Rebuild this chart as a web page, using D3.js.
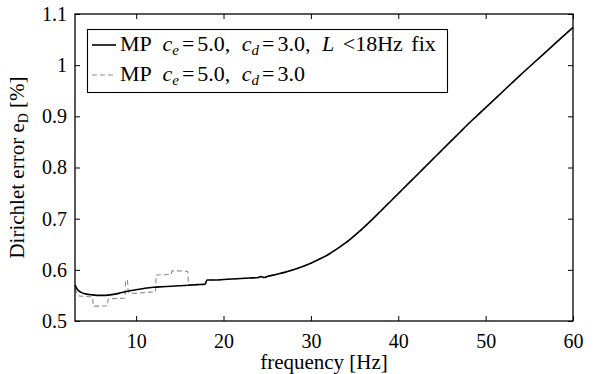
<!DOCTYPE html>
<html>
<head>
<meta charset="utf-8">
<script src="https://cdn.jsdelivr.net/npm/d3@7"></script>
<style>
  body { margin: 0; background: #fff; }
</style>
</head>
<body>
<div id="chart"></div>
<script>
// solid curve: MP ce=5.0, cd=3.0, L<18Hz fix
var fixFreq = [3.0, 3.3, 3.7, 4.2, 5, 6, 7, 8, 9, 10, 11, 12, 13, 14, 15, 16, 17, 17.9, 18.1, 19, 20, 21, 22, 23, 24, 24.3, 24.6, 25, 26, 27, 28, 29, 30, 31, 32, 33, 34, 35, 36, 37, 38, 39, 40, 41, 42, 43, 44, 45, 46, 47, 48, 49, 50, 52, 54, 56, 58, 60];
var fixErr = [0.570, 0.561, 0.556, 0.553, 0.551, 0.550, 0.551, 0.554, 0.558, 0.561, 0.564, 0.566, 0.567, 0.568, 0.569, 0.570, 0.571, 0.572, 0.580, 0.580, 0.581, 0.582, 0.583, 0.584, 0.585, 0.587, 0.585, 0.587, 0.591, 0.595, 0.600, 0.606, 0.613, 0.621, 0.630, 0.641, 0.653, 0.667, 0.682, 0.698, 0.715, 0.732, 0.749, 0.766, 0.783, 0.800, 0.817, 0.834, 0.851, 0.868, 0.885, 0.901, 0.917, 0.949, 0.981, 1.012, 1.043, 1.074];

// dashed curve: MP ce=5.0, cd=3.0 (no fix)
var rawFreq = [3.0, 3.5, 5.0, 5.1, 6.7, 6.8, 8.7, 8.8, 9.0, 9.1, 10, 11, 12.2, 12.3, 14.0, 14.1, 15.9, 16.0, 17, 17.9, 18.1, 19, 20, 21, 22, 23, 24, 24.3, 24.6, 25, 26, 27, 28, 29, 30, 31, 32, 33, 34, 35, 36, 37, 38, 39, 40, 41, 42, 43, 44, 45, 46, 47, 48, 49, 50, 52, 54, 56, 58, 60];
var rawErr = [0.564, 0.549, 0.547, 0.529, 0.530, 0.543, 0.545, 0.580, 0.579, 0.556, 0.554, 0.556, 0.557, 0.590, 0.591, 0.598, 0.597, 0.571, 0.571, 0.572, 0.580, 0.580, 0.581, 0.582, 0.583, 0.584, 0.585, 0.587, 0.585, 0.587, 0.591, 0.595, 0.600, 0.606, 0.613, 0.621, 0.630, 0.641, 0.653, 0.667, 0.682, 0.698, 0.715, 0.732, 0.749, 0.766, 0.783, 0.800, 0.817, 0.834, 0.851, 0.868, 0.885, 0.901, 0.917, 0.949, 0.981, 1.012, 1.043, 1.074];

var xTicks = [10, 20, 30, 40, 50, 60];
var yTicks = [0.5, 0.6, 0.7, 0.8, 0.9, 1, 1.1];

var width = 596, height = 374;
var margin = {left: 75, right: 23, top: 14, bottom: 53};
var serif = "Liberation Serif";
var fontSize = 21;
var tickFont = 20;
var legendFont = 22;

var svg = d3.select("#chart").append("svg")
    .attr("width", width)
    .attr("height", height)
    .attr("font-family", serif);

var x = d3.scaleLinear().domain([3, 60]).range([margin.left, width - margin.right]);
var y = d3.scaleLinear().domain([0.5, 1.1]).range([height - margin.bottom, margin.top]);

function pairs(fs, vs) {
  return fs.map(function(f, i) { return [f, vs[i]]; });
}

var line = d3.line()
    .curve(d3.curveMonotoneX)
    .x(function(d) { return x(d[0]); })
    .y(function(d) { return y(d[1]); });

// axes with inward ticks, mirrored on top / right
var tickLen = 5;
var bottomAxis = d3.axisBottom(x).tickValues(xTicks).tickSizeInner(-tickLen).tickSizeOuter(0).tickPadding(13).tickFormat(d3.format("d"));
var topAxis = d3.axisTop(x).tickValues(xTicks).tickSizeInner(-tickLen).tickSizeOuter(0).tickFormat("");
var leftAxis = d3.axisLeft(y).tickValues(yTicks).tickSizeInner(-tickLen).tickSizeOuter(0).tickPadding(8).tickFormat(function(d) { return String(+d.toFixed(1)); });
var rightAxis = d3.axisRight(y).tickValues(yTicks).tickSizeInner(-tickLen).tickSizeOuter(0).tickFormat("");

svg.append("g").attr("transform", "translate(0," + y.range()[0] + ")").call(bottomAxis);
svg.append("g").attr("transform", "translate(0," + y.range()[1] + ")").call(topAxis);
svg.append("g").attr("transform", "translate(" + x.range()[0] + ",0)").call(leftAxis);
svg.append("g").attr("transform", "translate(" + x.range()[1] + ",0)").call(rightAxis);

svg.selectAll(".domain").remove();
svg.selectAll(".tick line").attr("stroke", "#000").attr("stroke-width", 1);
svg.selectAll(".tick text")
    .attr("font-size", tickFont)
    .attr("font-family", serif)
    .attr("fill", "#000");

// data lines
var plot = svg.append("g");
plot.append("path")
    .datum(pairs(rawFreq, rawErr))
    .attr("fill", "none")
    .attr("stroke", "#8a8a8a")
    .attr("stroke-width", 1.1)
    .attr("stroke-dasharray", "5,3")
    .attr("d", line);
plot.append("path")
    .datum(pairs(fixFreq, fixErr))
    .attr("fill", "none")
    .attr("stroke", "#000")
    .attr("stroke-width", 1.6)
    .attr("d", line);

// frame
svg.append("rect")
    .attr("x", x.range()[0])
    .attr("y", y.range()[1])
    .attr("width", x.range()[1] - x.range()[0])
    .attr("height", y.range()[0] - y.range()[1])
    .attr("fill", "none")
    .attr("stroke", "#000")
    .attr("stroke-width", 1.3);

// axis labels
svg.append("text")
    .attr("x", (x.range()[0] + x.range()[1]) / 2)
    .attr("y", 369)
    .attr("text-anchor", "middle")
    .attr("font-family", serif)
    .attr("font-size", fontSize)
    .text("frequency [Hz]");

var yl = svg.append("text")
    .attr("transform", "translate(24," + ((y.range()[0] + y.range()[1]) / 2) + ") rotate(-90)")
    .attr("text-anchor", "middle")
    .attr("font-family", serif)
    .attr("font-size", fontSize);
yl.append("tspan").text("Dirichlet error e");
yl.append("tspan").attr("font-size", 14).attr("dy", 4).text("D");
yl.append("tspan").attr("dy", -4).text(" [%]");

// legend
var legend = svg.append("g");
legend.append("rect")
    .attr("x", 87.5).attr("y", 29.5)
    .attr("width", 360).attr("height", 63)
    .attr("fill", "#fff").attr("stroke", "#000").attr("stroke-width", 1.1);

var legendItems = [
  {stroke: "#000", width: 1.6, dash: null, y: 45},
  {stroke: "#8a8a8a", width: 1.1, dash: "5,3", y: 75}
];

// math-ish legend text: subscripts and spacing around relations
function mathLabel(t, sym, sub) {
  t.append("tspan").attr("font-style", "italic").attr("dx", 3).text(sym);
  t.append("tspan").attr("font-style", "italic").attr("font-size", 15).attr("dy", 4).text(sub);
  t.append("tspan").attr("dy", -4).attr("dx", 3).text("=");
}

legendItems.forEach(function(d, i) {
  legend.append("line")
      .attr("x1", 92).attr("x2", 116)
      .attr("y1", d.y).attr("y2", d.y)
      .attr("stroke", d.stroke)
      .attr("stroke-width", d.width)
      .attr("stroke-dasharray", d.dash);
  var t = legend.append("text")
      .attr("x", 120).attr("y", d.y + 6)
      .attr("font-family", serif)
      .attr("font-size", legendFont)
      .attr("word-spacing", 3);
  t.append("tspan").text("MP ");
  mathLabel(t, "c", "e");
  t.append("tspan").attr("dx", 3).text("5.0, ");
  mathLabel(t, "c", "d");
  t.append("tspan").attr("dx", 3).text(i == 0 ? "3.0, " : "3.0");
  if (i == 0) {
    t.append("tspan").attr("font-style", "italic").attr("dx", 3).text("L");
    t.append("tspan").text(" <18Hz fix");
  }
});
</script>
</body>
</html>
